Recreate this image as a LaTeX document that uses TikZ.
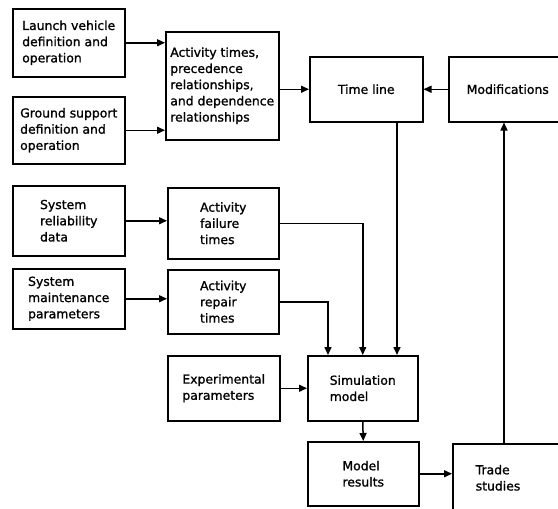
\documentclass[tikz,border=0pt]{standalone}
\usepackage{fontspec}
\setmainfont{DejaVu Sans}[BoldFont=DejaVu Sans, BoldFeatures={FakeBold=1.2}]
\usetikzlibrary{arrows.meta}
\begin{document}
\begin{tikzpicture}[x=1pt,y=-1pt,
  box/.style={draw, line width=1.5pt, anchor=north west, inner sep=0pt, align=left,
    font=\fontsize{12.4}{16.2}\selectfont\bfseries},
  arr/.style={line width=1.5pt, -{Triangle[length=8pt,width=7pt]}}]
\useasboundingbox (0,0) rectangle (558,509);
\clip (0,0) rectangle (558,509);
\node[box, minimum width=112pt, minimum height=68pt] (launch) at (12,8) {Launch vehicle\\definition and\\operation};
\node[box, minimum width=112pt, minimum height=67pt] (ground) at (12,96) {Ground support\\definition and\\operation};
\node[box, minimum width=113pt, minimum height=108pt] (act) at (165,31) {Activity times,\\precedence\\relationships,\\and dependence\\relationships};
\node[box, minimum width=113pt, minimum height=65pt] (time) at (309,56) {Time line};
\node[box, minimum width=118pt, minimum height=65pt] (mods) at (448,56) {Modifications};
\node[box, minimum width=112pt, minimum height=70pt] (rel) at (12,185) {System\\reliability\\data};
\node[box, minimum width=111pt, minimum height=71pt] (fail) at (167,187) {Activity\\failure\\times};
\node[box, minimum width=112pt, minimum height=60pt] (maint) at (12,268) {System\\maintenance\\parameters};
\node[box, minimum width=111pt, minimum height=64pt] (rep) at (167,269) {Activity\\repair\\times};
\node[box, minimum width=112pt, minimum height=65pt] (exp) at (167,355) {Experimental\\parameters};
\node[box, minimum width=110pt, minimum height=65pt] (sim) at (307,355) {Simulation\\model};
\node[box, minimum width=111pt, minimum height=64pt] (res) at (307,441) {Model\\results};
\node[box, minimum width=128pt, minimum height=68pt, text width=82pt, inner xsep=23pt] (trade) at (452,443) {Trade\\studies};
\coordinate (xa) at (328,0);
\coordinate (xt) at (397,0);
\coordinate (xm) at (504,0);
\draw[arr] (launch.east) -- (act.west |- launch.east);
\draw[arr] (ground.east) -- (act.west |- ground.east);
\draw[arr] (act.east |- time.west) -- (time.west);
\draw[arr] (mods.west) -- (time.east);
\draw[arr] (rel.east) -- (fail.west |- rel.east);
\draw[arr] (maint.east) -- (rep.west |- maint.east);
\draw[arr] (fail.east) -| (sim.north);
\draw[arr] (rep.east) -| (sim.north -| xa);
\draw[arr] (time.south -| xt) -- (sim.north -| xt);
\draw[arr] (exp.east) -- (sim.west);
\draw[arr] (sim.south) -- (res.north);
\draw[arr] (res.east) -- (trade.west |- res.east);
\draw[arr] (trade.north -| xm) -- (mods.south -| xm);
\end{tikzpicture}
\end{document}
